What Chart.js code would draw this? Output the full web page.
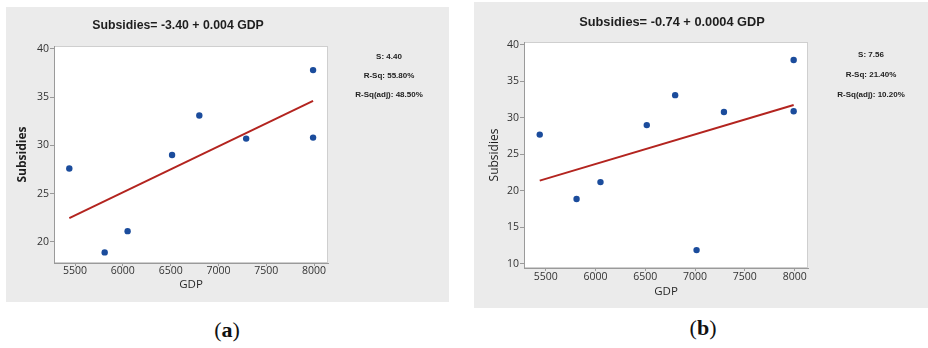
<!DOCTYPE html>
<html>
<head>
<meta charset="utf-8">
<script src="https://cdn.jsdelivr.net/npm/chart.js@4.4.1/dist/chart.umd.min.js"></script>
<style>
  html, body { margin:0; padding:0; background:#fff; }
  body { width:928px; height:348px; position:relative; overflow:hidden; }
  .panel { position:absolute; background:#ebebeb; box-sizing:border-box; }
  .panel canvas { position:absolute; left:0; top:0; }
  .ttl { position:absolute; font-family:'Liberation Sans', Arial, sans-serif; font-weight:bold; color:#1e1e1e; line-height:1; white-space:nowrap; transform:translate(-50%,-50%); }
  .stat { position:absolute; font-family:'Liberation Sans', Arial, sans-serif; font-weight:bold; font-size:8px; color:#222; line-height:1; white-space:nowrap; transform:translate(-50%,-50%); }
  .cap { position:absolute; font-family:'Liberation Serif', 'DejaVu Serif', serif; font-size:22px; color:#111; line-height:1; white-space:nowrap; transform:translate(-50%,-50%); }
</style>
</head>
<body>
<div class="panel" id="pa" style="left:6px; top:7px; width:443px; height:295px;"><canvas id="ca" width="443" height="295"></canvas></div>
<div class="panel" id="pb" style="left:474px; top:2px; width:454px; height:306px;"><canvas id="cb" width="454" height="306"></canvas></div>

<div class="ttl" style="left:178px; top:25px; font-size:12.3px;">Subsidies= -3.40 + 0.004 GDP</div>
<div class="ttl" style="left:672px; top:22px; font-size:12.8px;">Subsidies= -0.74 + 0.0004 GDP</div>

<div class="stat" style="left:389px; top:57px;">S: 4.40</div>
<div class="stat" style="left:389px; top:76px;">R-Sq: 55.80%</div>
<div class="stat" style="left:389px; top:95px;">R-Sq(adj): 48.50%</div>

<div class="stat" style="left:871px; top:55px;">S: 7.56</div>
<div class="stat" style="left:871px; top:75px;">R-Sq: 21.40%</div>
<div class="stat" style="left:871px; top:95px;">R-Sq(adj): 10.20%</div>

<div class="cap" style="left:227px; top:330px;">(<b>a</b>)</div>
<div class="cap" style="left:703px; top:328px;">(<b>b</b>)</div>

<script>
// ---- data ----
const gdpA  = [5440, 5810, 6050, 6515, 6800, 7290, 7990, 7990];
const subsA = [27.6, 18.9, 21.1, 29.0, 33.1, 30.7, 37.8, 30.8];
const fitGdpA  = [5440, 7990];
const fitSubsA = [22.46, 34.6];

const gdpB  = [5440, 5810, 6050, 6515, 6800, 7015, 7290, 7990, 7990];
const subsB = [27.7, 18.9, 21.2, 29.0, 33.1, 11.9, 30.8, 37.9, 30.9];
const fitGdpB  = [5440, 7990];
const fitSubsB = [21.4, 31.75];

const xTicks  = [5500, 6000, 6500, 7000, 7500, 8000];
const yTicksA = [20, 25, 30, 35, 40];
const yTicksB = [10, 15, 20, 25, 30, 35, 40];

Chart.defaults.font.family = "'Open Sans', 'Liberation Sans', sans-serif";
Chart.defaults.animation = false;

const plotBg = {
  id: 'plotBg',
  beforeDraw(chart) {
    const {ctx, chartArea: a} = chart;
    ctx.save();
    ctx.fillStyle = '#ffffff';
    ctx.fillRect(a.left, a.top, a.right - a.left, a.bottom - a.top);
    ctx.strokeStyle = '#cfcfcf';
    ctx.lineWidth = 1;
    ctx.strokeRect(a.left + 0.5, a.top + 0.5, a.right - a.left - 1, a.bottom - a.top - 1);
    ctx.restore();
  }
};

function pts(xs, ys) { return xs.map((x, i) => ({x: x, y: ys[i]})); }

function makeChart(id, cfg) {
  const axisColor = '#9a9a9a';
  return new Chart(document.getElementById(id), {
    type: 'scatter',
    data: {
      datasets: [
        { type: 'line', data: pts(cfg.fx, cfg.fy), borderColor: '#b3241f', borderWidth: 2,
          pointRadius: 0, fill: false, tension: 0, order: 2 },
        { type: 'scatter', data: pts(cfg.xs, cfg.ys), backgroundColor: '#1b4c9c', borderColor: '#1b4c9c',
          pointRadius: 3.2, borderWidth: 0, order: 1 }
      ]
    },
    options: {
      responsive: false,
      maintainAspectRatio: false,
      layout: { padding: { top: cfg.T, right: cfg.R, left: 0, bottom: 0 } },
      plugins: { legend: { display: false }, tooltip: { enabled: false }, title: { display: false } },
      scales: {
        x: {
          type: 'linear', min: cfg.xmin, max: cfg.xmax,
          afterBuildTicks: s => { s.ticks = xTicks.map(v => ({value: v})); },
          afterFit: s => { s.height = cfg.H; },
          ticks: { includeBounds: false, color: '#333', font: { size: 10.5, lineHeight: 1 }, padding: cfg.xpad,
                   maxRotation: 0, autoSkip: false, callback: v => String(v) },
          grid: { display: true, drawOnChartArea: false, drawTicks: true, tickLength: 3, color: axisColor },
          border: { display: true, color: axisColor },
          title: { display: true, text: 'GDP', color: '#2a2a2a', font: { size: 11.5 }, padding: { top: 0, bottom: cfg.xtPad } }
        },
        y: {
          type: 'linear', min: cfg.ymin, max: cfg.ymax,
          afterBuildTicks: s => { s.ticks = cfg.yt.map(v => ({value: v})); },
          afterFit: s => { s.width = cfg.W; },
          ticks: { includeBounds: false, color: '#333', font: { size: 10.5 }, padding: 1, autoSkip: false,
                   callback: v => String(v) },
          grid: { display: true, drawOnChartArea: false, drawTicks: true, tickLength: 4, color: axisColor },
          border: { display: true, color: axisColor },
          title: { display: true, text: 'Subsidies', color: '#1e1e1e',
                   font: { size: 12, weight: cfg.ytBold ? 'bold' : 'normal' }, padding: { top: cfg.ytPad, bottom: 0 } }
        }
      }
    },
    plugins: [plotBg]
  });
}

makeChart('ca', {
  xs: gdpA, ys: subsA, fx: fitGdpA, fy: fitSubsA, yt: yTicksA,
  xmin: 5280, xmax: 8146, ymin: 17.8, ymax: 40.3,
  T: 39, R: 121, W: 48, H: 39, xpad: 0, xtPad: 10, ytPad: 9, ytBold: true
});

makeChart('cb', {
  xs: gdpB, ys: subsB, fx: fitGdpB, fy: fitSubsB, yt: yTicksB,
  xmin: 5282, xmax: 8134, ymin: 9.45, ymax: 40.37,
  T: 40, R: 120, W: 50, H: 40, xpad: 1, xtPad: 9, ytPad: 13, ytBold: false
});
</script>
</body>
</html>
